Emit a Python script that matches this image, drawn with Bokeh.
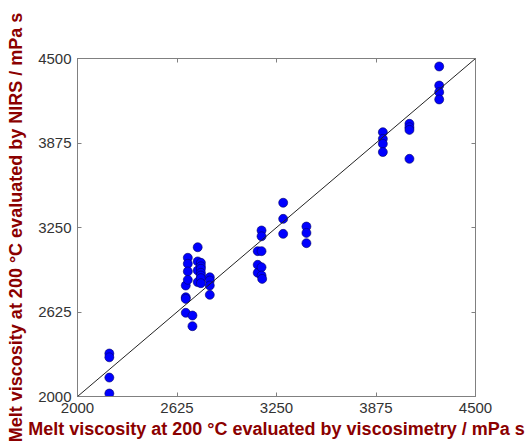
from bokeh.plotting import figure
from bokeh.models import Range1d, FixedTicker, LinearAxis, Slope
from bokeh.embed import file_html
from bokeh.resources import INLINE

# Reference (viscosimetry) values and NIRS-predicted values
viscosimetry = [
    2200, 2200, 2200, 2200,
    2680, 2680, 2680, 2680,
    2693, 2693, 2693, 2693,
    2722, 2722,
    2755, 2755, 2755, 2755,
    2775, 2775, 2775, 2775, 2775, 2775, 2775,
    2831, 2831, 2831, 2831,
    3132, 3132, 3132,
    3156, 3156, 3156, 3156, 3156, 3160,
    3292, 3292, 3292,
    3438, 3438, 3438,
    3918, 3918, 3918, 3918,
    4085, 4085, 4085, 4085,
    4272, 4272, 4272, 4272,
]
nirs = [
    2318, 2290, 2140, 2022,
    2821, 2734, 2722, 2619,
    3026, 2982, 2925, 2863,
    2599, 2520,
    3104, 2999, 2932, 2846,
    2989, 2963, 2945, 2915, 2895, 2875, 2838,
    2882, 2858, 2821, 2752,
    3075, 2974, 2915,
    3228, 3185, 3075, 2956, 2895, 2870,
    3433, 3314, 3203,
    3257, 3210, 3134,
    3955, 3906, 3869, 3808,
    4017, 3992, 3972, 3758,
    4441, 4300, 4251, 4197,
]
tick_values = [2000, 2625, 3250, 3875, 4500]
axis_min, axis_max = 2000, 4500

x_title = "Melt viscosity at 200 °C evaluated by viscosimetry / mPa s"
y_title = "Melt viscosity at 200 °C evaluated by NIRS / mPa s"

FONT = "Liberation Sans"
LABEL_COLOR = "#8b0000"
TICK_COLOR = "#333333"
FRAME_COLOR = "#808080"

p = figure(width=527, height=447, output_backend="svg", toolbar_location=None,
           x_range=Range1d(axis_min, axis_max), y_range=Range1d(axis_min, axis_max),
           min_border_left=77, min_border_right=52, min_border_top=58, min_border_bottom=51,
           background_fill_color="white", border_fill_color="white")
p.grid.visible = False
p.outline_line_color = FRAME_COLOR
p.outline_line_width = 1

ticker = FixedTicker(ticks=tick_values)

def style_axis(ax, show_labels=True):
    ax.ticker = ticker
    ax.major_tick_in = 4
    ax.major_tick_out = 0
    ax.minor_tick_line_color = None
    ax.axis_line_color = FRAME_COLOR
    ax.major_tick_line_color = FRAME_COLOR
    ax.major_label_text_font = FONT
    ax.major_label_text_font_size = "15px"
    ax.major_label_text_color = TICK_COLOR if show_labels else None
    ax.major_label_standoff = 6

for ax in p.xaxis + p.yaxis:
    style_axis(ax)
    ax.axis_label_text_font = FONT
    ax.axis_label_text_font_size = "18px"
    ax.axis_label_text_font_style = "bold"
    ax.axis_label_text_color = LABEL_COLOR

p.xaxis.axis_label = x_title
p.yaxis.axis_label = y_title
p.xaxis.axis_label_standoff = 3
p.yaxis.axis_label_standoff = 9

top_axis = LinearAxis()
style_axis(top_axis, show_labels=False)
right_axis = LinearAxis()
style_axis(right_axis, show_labels=False)
p.add_layout(top_axis, "above")
p.add_layout(right_axis, "right")

p.add_layout(Slope(gradient=1, y_intercept=0, line_color="#222222", line_width=1))

p.scatter(viscosimetry, nirs, size=9, fill_color="#0000ff", line_color="#000066",
          line_width=0.6)

open("out.html", "w").write(file_html(p, INLINE))
